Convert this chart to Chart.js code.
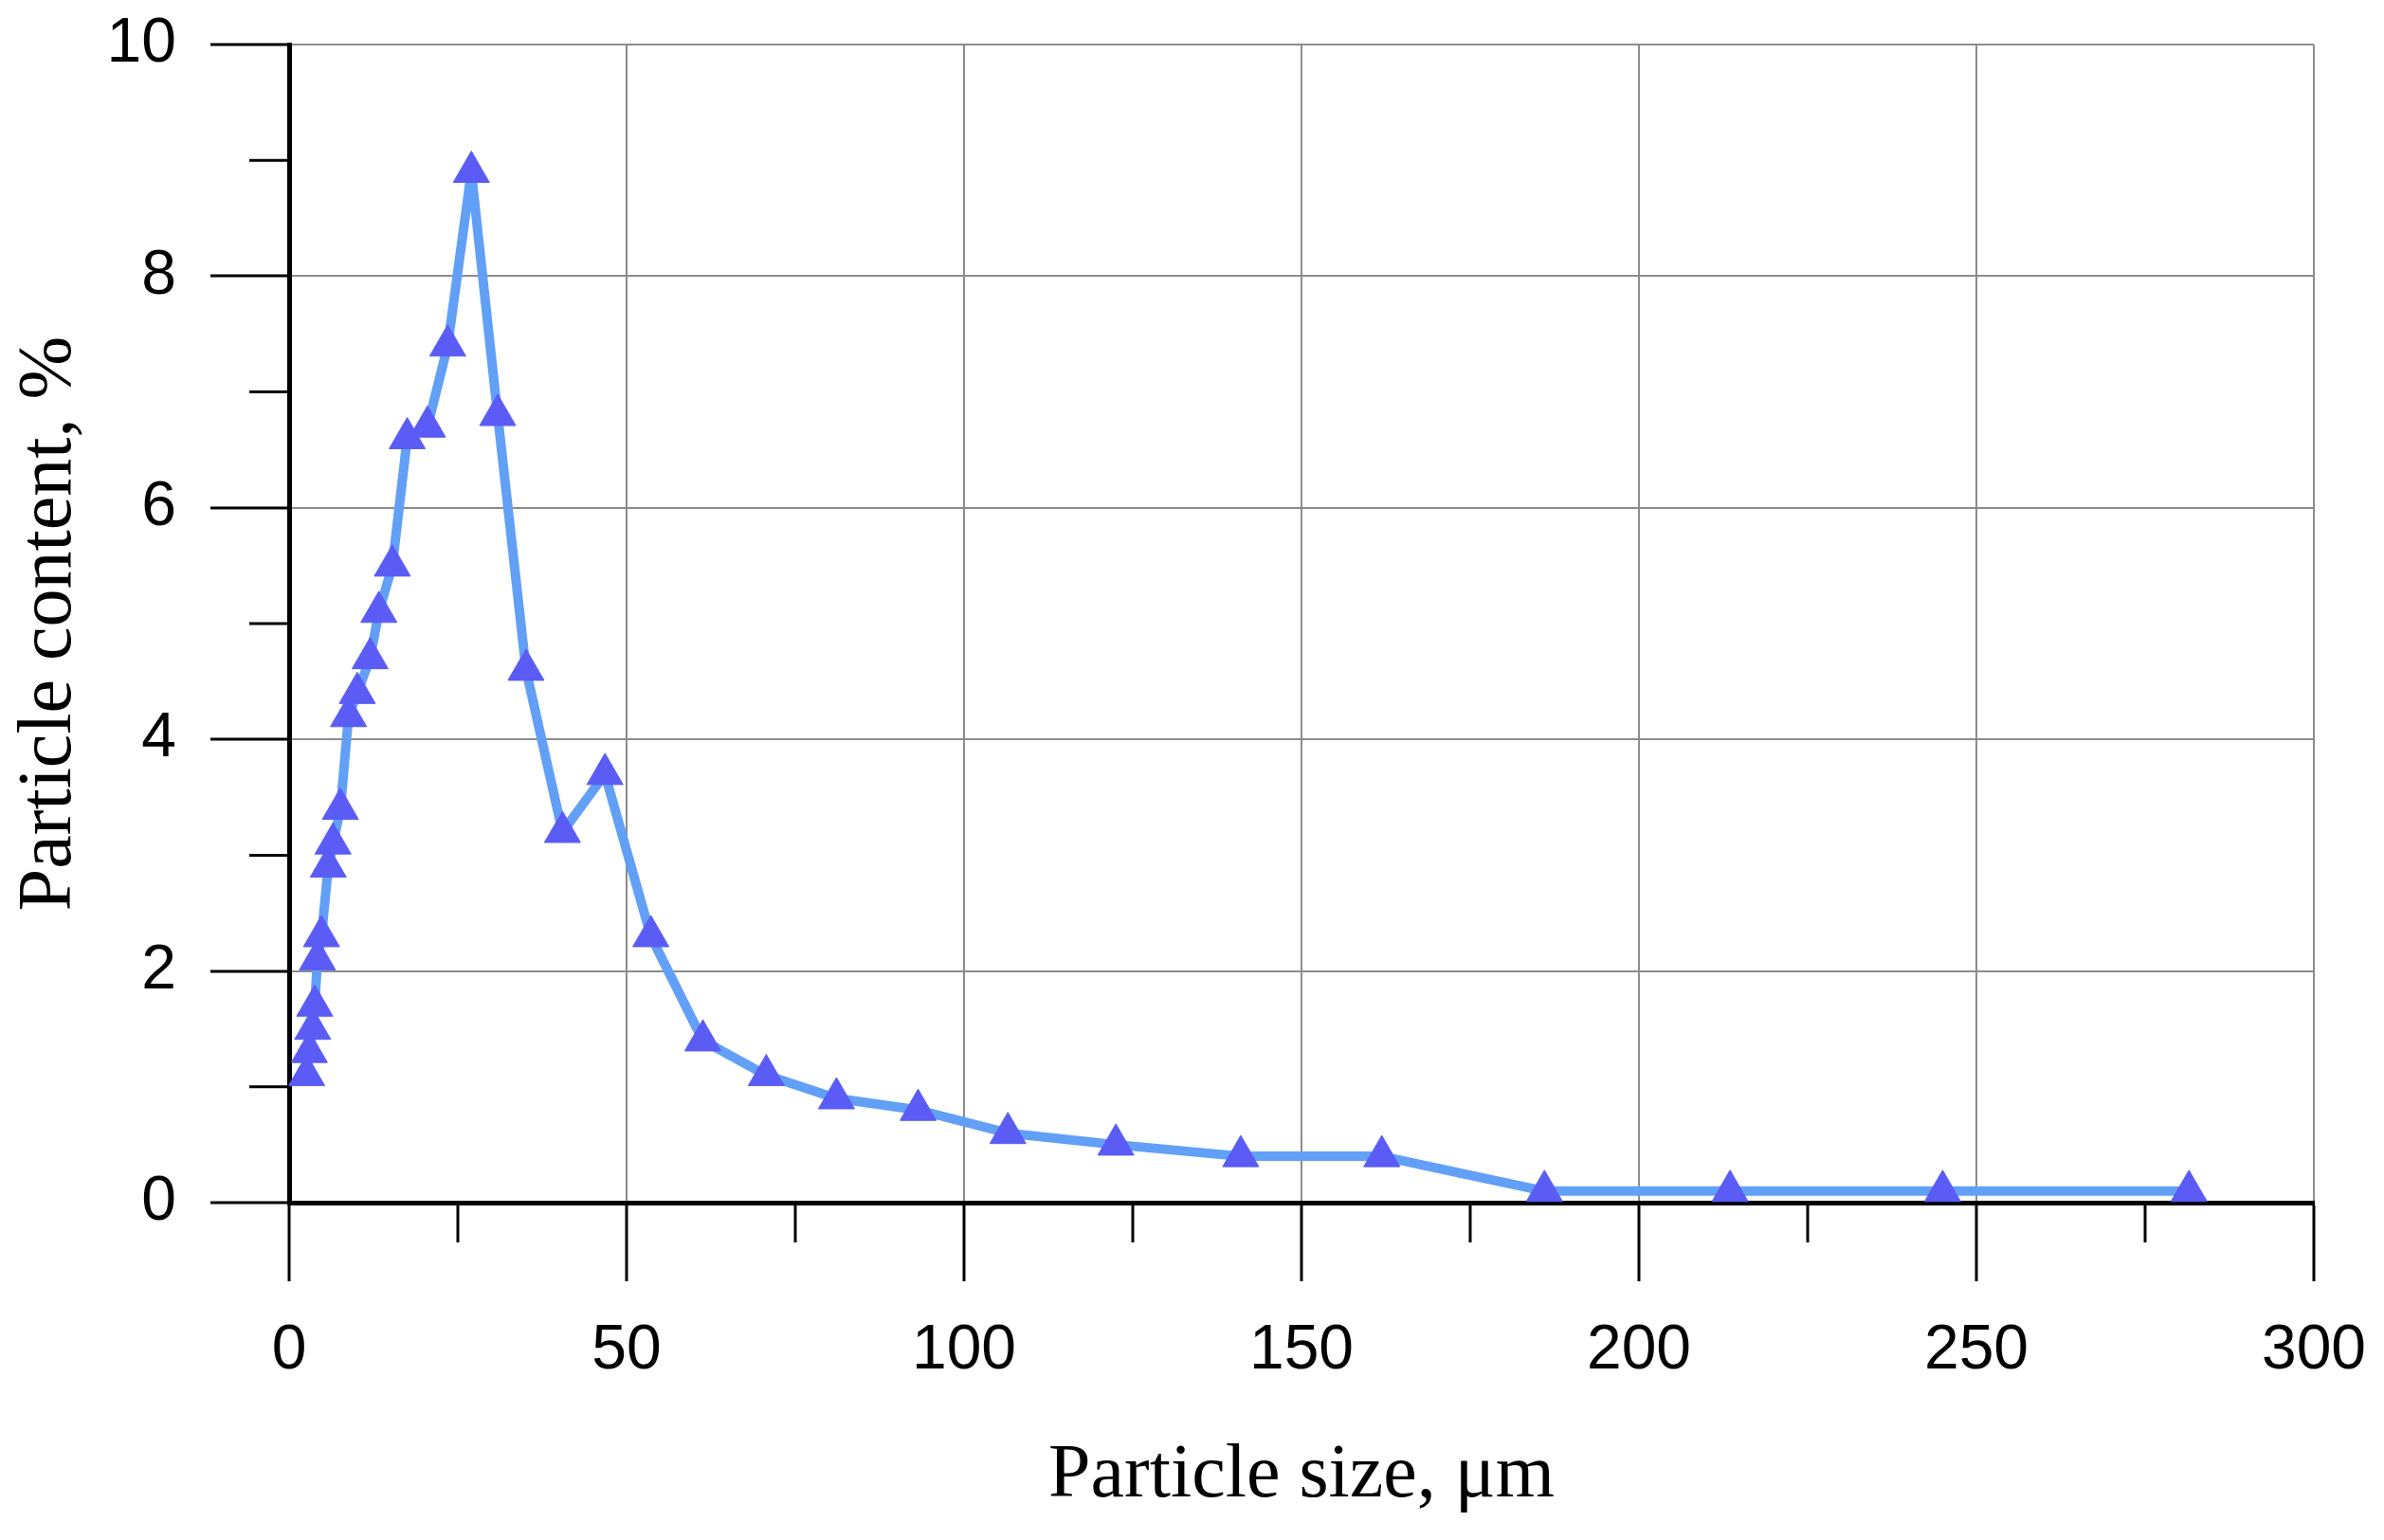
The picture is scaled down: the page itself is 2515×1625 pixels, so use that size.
<!DOCTYPE html>
<html>
<head>
<meta charset="utf-8">
<title>Particle size distribution</title>
<script src="https://cdn.jsdelivr.net/npm/chart.js@4.4.1/dist/chart.umd.min.js"></script>
<style>
    html, body { margin: 0; padding: 0; background: #fff; }
    #wrap { width: 2515px; height: 1625px; }
</style>
</head>
<body>
<div id="wrap"><canvas id="psd" width="2515" height="1625"></canvas></div>
<script>
    // Data
    const sizes = [2.6, 3.0, 3.5, 3.8, 4.2, 4.8, 5.8, 6.5, 7.6, 8.8, 10.1, 12.0, 13.3, 15.3, 17.5, 20.5,
        23.5, 27.0, 30.9, 35.1, 40.5, 46.8, 53.6, 61.3, 70.7, 81.1, 93.2, 106.5, 122.5, 141.0, 161.9,
        186.0, 213.5, 245.0, 281.5];
    const content = [1.1, 1.3, 1.5, 1.7, 2.1, 2.3, 2.9, 3.1, 3.4, 4.2, 4.4, 4.7, 5.1, 5.5, 6.6, 6.7,
        7.4, 8.9, 6.8, 4.6, 3.2, 3.7, 2.3, 1.4, 1.1, 0.9, 0.8, 0.6, 0.5, 0.4, 0.4,
        0.1, 0.1, 0.1, 0.1];
    const xMinorTicks = [25, 75, 125, 175, 225, 275];
    const yMinorTicks = [1, 3, 5, 7, 9];

    const points = sizes.map(function (s, i) { return { x: s, y: content[i] }; });

    // Short minor tick marks outside the plot
    const minorTicks = {
        id: 'minorTicks',
        afterDraw: function (chart) {
            const ctx = chart.ctx;
            const xs = chart.scales.x;
            const ys = chart.scales.y;
            const area = chart.chartArea;
            ctx.save();
            ctx.strokeStyle = '#000';
            ctx.lineWidth = 3;
            ctx.beginPath();
            xMinorTicks.forEach(function (v) {
                const px = xs.getPixelForValue(v);
                ctx.moveTo(px, area.bottom);
                ctx.lineTo(px, area.bottom + 42);
            });
            yMinorTicks.forEach(function (v) {
                const py = ys.getPixelForValue(v);
                ctx.moveTo(area.left, py);
                ctx.lineTo(area.left - 42, py);
            });
            ctx.stroke();
            ctx.restore();
        }
    };

    const ctx = document.getElementById('psd').getContext('2d');
    const chart = new Chart(ctx, {
        type: 'line',
        data: {
            datasets: [{
                data: points,
                borderColor: '#62a0f7',
                borderWidth: 10,
                borderJoinStyle: 'round',
                borderCapStyle: 'round',
                tension: 0,
                pointStyle: 'triangle',
                pointRadius: 22,
                pointBackgroundColor: '#5a5cf5',
                pointBorderColor: '#5a5cf5',
                pointBorderWidth: 1,
                clip: false
            }]
        },
        options: {
            responsive: false,
            animation: false,
            layout: { padding: { top: 47, right: 74, left: 0, bottom: 0 } },
            plugins: {
                legend: { display: false },
                tooltip: { enabled: false }
            },
            scales: {
                x: {
                    type: 'linear',
                    min: 0,
                    max: 300,
                    afterFit: function (scale) {
                        scale.height = 356;
                        scale.paddingLeft = 0;
                        scale.paddingRight = 0;
                    },
                    ticks: {
                        stepSize: 50,
                        color: '#000',
                        padding: 34,
                        font: { family: 'Liberation Sans', size: 66 }
                    },
                    grid: {
                        color: '#8c8c8c',
                        lineWidth: 2,
                        tickColor: '#000',
                        tickWidth: 3,
                        tickLength: 83
                    },
                    border: { color: '#000', width: 5 },
                    title: {
                        display: true,
                        text: 'Particle size, μm',
                        color: '#000',
                        padding: { top: 0, bottom: 19 },
                        font: { family: 'Liberation Serif', size: 80 }
                    }
                },
                y: {
                    min: 0,
                    max: 10,
                    afterFit: function (scale) {
                        scale.width = 305;
                        scale.paddingTop = 0;
                        scale.paddingBottom = 0;
                    },
                    ticks: {
                        stepSize: 2,
                        color: '#000',
                        padding: 36,
                        font: { family: 'Liberation Sans', size: 66 }
                    },
                    grid: {
                        color: '#8c8c8c',
                        lineWidth: 2,
                        tickColor: '#000',
                        tickWidth: 3,
                        tickLength: 83
                    },
                    border: { color: '#000', width: 5 },
                    title: {
                        display: true,
                        text: 'Particle content, %',
                        color: '#000',
                        padding: { top: 5, bottom: 0 },
                        font: { family: 'Liberation Serif', size: 80 }
                    }
                }
            }
        },
        plugins: [minorTicks]
    });
</script>
</body>
</html>
